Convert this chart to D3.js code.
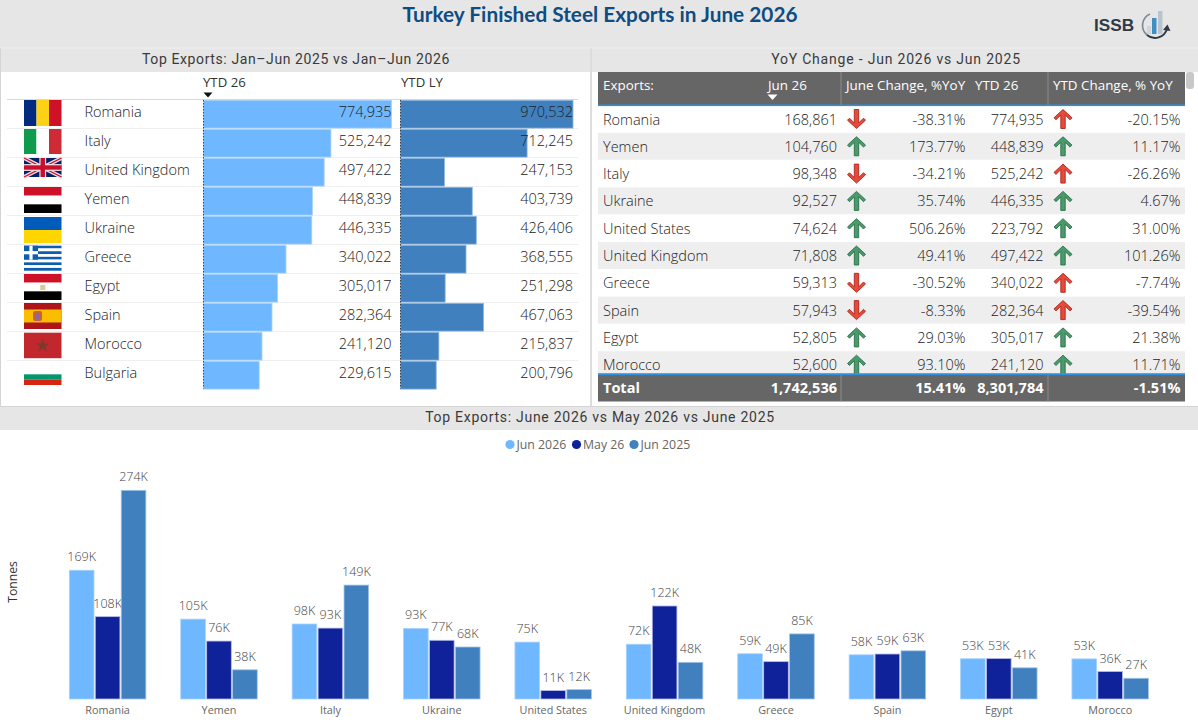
<!DOCTYPE html>
<html>
<head>
	<meta charset="utf-8">
	<style>
		html, body {margin: 0; padding: 0; background: #fff; overflow: hidden;}
		svg {display: block;}
	</style>
</head>
<body>
<div id="chartContainer">
	<script src="https://d3js.org/d3.v7.min.js"></script>
	<script type="text/javascript">

// Top exports panel (Jan-Jun)
	var topNames = ["Romania", "Italy", "United Kingdom", "Yemen", "Ukraine", "Greece", "Egypt", "Spain", "Morocco", "Bulgaria"];
	var ytd26 = [774935, 525242, 497422, 448839, 446335, 340022, 305017, 282364, 241120, 229615];
	var ytdLy = [970532, 712245, 247153, 403739, 426406, 368555, 251298, 467063, 215837, 200796];

// YoY table
	var tableNames = ["Romania", "Yemen", "Italy", "Ukraine", "United States", "United Kingdom", "Greece", "Spain", "Egypt", "Morocco"];
	var tableJun26 = [168861, 104760, 98348, 92527, 74624, 71808, 59313, 57943, 52805, 52600];
	var tableJunChange = [-38.31, 173.77, -34.21, 35.74, 506.26, 49.41, -30.52, -8.33, 29.03, 93.10];
	var tableYtd26 = [774935, 448839, 525242, 446335, 223792, 497422, 340022, 282364, 305017, 241120];
	var tableYtdChange = [-20.15, 11.17, -26.26, 4.67, 31.00, 101.26, -7.74, -39.54, 21.38, 11.71];
	var totalRow = ["Total", "1,742,536", "15.41%", "8,301,784", "-1.51%"];

// Monthly bars
	var categories = ["Romania", "Yemen", "Italy", "Ukraine", "United States", "United Kingdom", "Greece", "Spain", "Egypt", "Morocco"];
	var seriesNames = ["Jun 2026", "May 26", "Jun 2025"];
	var jun2026 = [168861, 104760, 98348, 92527, 74624, 71808, 59313, 57943, 52805, 52600];
	var may2026 = [108000, 76000, 93000, 77000, 11000, 122000, 49000, 59000, 53000, 36000];
	var jun2025 = [273700, 38300, 149400, 68200, 12300, 48100, 85400, 63200, 40900, 27200];

	var bodyFont = "'Open Sans', sans-serif";
	var headFont = "Roboto, sans-serif";
	var lightBlue = "#6fb8ff", navy = "#10229a", midBlue = "#4080bf";

	var svg = d3.select("#chartContainer").append("svg")
		.attr("width", 1198).attr("height", 725)
		.style("font-family", bodyFont).style("font-weight", 300);

// Page background and panels
	svg.append("rect").attr("width", 1198).attr("height", 725).attr("fill", "#e6e6e6");
	svg.append("rect").attr("x", 1).attr("y", 72).attr("width", 589).attr("height", 334).attr("fill", "#fff");
	svg.append("rect").attr("x", 592).attr("y", 72).attr("width", 606).attr("height", 334).attr("fill", "#fff");
	svg.append("rect").attr("x", 0).attr("y", 430).attr("width", 1198).attr("height", 295).attr("fill", "#fff");
	svg.append("line").attr("x1", 0).attr("x2", 1198).attr("y1", 48).attr("y2", 48).attr("stroke", "#efefef");
	svg.append("line").attr("x1", 591).attr("x2", 591).attr("y1", 48).attr("y2", 406).attr("stroke", "#d4d4d4");
	svg.append("line").attr("x1", 0.5).attr("x2", 0.5).attr("y1", 48).attr("y2", 406).attr("stroke", "#d4d4d4");
	svg.append("line").attr("x1", 0).attr("x2", 1198).attr("y1", 406.5).attr("y2", 406.5).attr("stroke", "#d4d4d4");

// Headings
	svg.append("text")
		.attr("x", 600).attr("y", 22)
		.style("text-anchor", "middle").style("font-family", "Lato, sans-serif")
		.style("font-size", "20.8px").style("font-weight", 700)
		.attr("fill", "#0f4c81")
		.text("Turkey Finished Steel Exports in June 2026");

	function sectionTitle(x, y, label, spacing) {
		svg.append("text")
			.attr("x", x).attr("y", y)
			.style("text-anchor", "middle").style("font-family", headFont)
			.style("font-size", "14px").style("font-weight", 400).style("letter-spacing", spacing + "px")
			.attr("fill", "#3a3a3a")
			.text(label);
	}
	sectionTitle(296, 64, "Top Exports: Jan\u2013Jun 2025 vs Jan\u2013Jun 2026", 0.6);
	sectionTitle(896, 64, "YoY Change - Jun 2026 vs Jun 2025", 0.8);
	sectionTitle(600, 422, "Top Exports: June 2026 vs May 2026 vs June 2025", 0.72);

// ISSB logo
	var logo = svg.append("g");
	logo.append("text").attr("x", 1094).attr("y", 30.5)
		.style("font-family", "'Liberation Sans', sans-serif").style("font-weight", 700).style("font-size", "17.2px")
		.attr("fill", "#2f3a48").text("ISSB");
	logo.append("rect").attr("x", 1147).attr("y", 26).attr("width", 4).attr("height", 8).attr("fill", "#cfd5da");
	logo.append("rect").attr("x", 1152).attr("y", 18).attr("width", 4.5).attr("height", 16).attr("fill", "#3f8fc4");
	logo.append("rect").attr("x", 1158).attr("y", 11).attr("width", 4.5).attr("height", 23).attr("fill", "#b9c4cc");
	logo.append("path").attr("d", "M1150 14 A12.5 12.5 0 0 0 1147 35").attr("fill", "none").attr("stroke", "#7f8b96").attr("stroke-width", 1.7);
	logo.append("path").attr("d", "M1147 35 A12.5 12.5 0 0 0 1167 29").attr("fill", "none").attr("stroke", "#2f3a48").attr("stroke-width", 1.9);
	logo.append("path").attr("d", "M1163 30 L1167.5 24.5 L1170.5 31 Z").attr("fill", "#2f3a48");

// --- Left panel: bars per country ---
	var rowTop = 100, rowH = 29;
	var xYtd = d3.scaleLinear().domain([0, d3.max(ytd26)]).range([203.5, 391.5]);
	var xLy = d3.scaleLinear().domain([0, d3.max(ytdLy)]).range([400.5, 573]);
	var fmt = d3.format(",");

	svg.append("text").attr("x", 203).attr("y", 87).style("font-size", "13.2px").style("font-weight", 400).attr("fill", "#333").text("YTD 26");
	svg.append("text").attr("x", 401).attr("y", 87).style("font-size", "13.2px").style("font-weight", 400).attr("fill", "#333").text("YTD LY");
	svg.append("path").attr("d", "M203.5 92.5 L212.5 92.5 L208 97.5 Z").attr("fill", "#111");
	svg.append("line").attr("x1", 7).attr("x2", 578).attr("y1", 99.5).attr("y2", 99.5).attr("stroke", "#d9d9d9").attr("stroke-width", 1.2);

	var rows = svg.append("g").selectAll("g").data(topNames).enter().append("g")
		.attr("transform", function(d, i) { return "translate(0," + (rowTop + i * rowH) + ")"; });

	rows.filter(function(d, i) { return i < topNames.length - 1; }).append("line")
		.attr("x1", 7).attr("x2", 578).attr("y1", rowH - 0.5).attr("y2", rowH - 0.5).attr("stroke", "#efefef");

	rows.append("rect").attr("x", xYtd(0)).attr("y", 0.3).attr("height", rowH - 1.2)
		.attr("width", function(d, i) { return xYtd(ytd26[i]) - xYtd(0); })
		.attr("fill", lightBlue).attr("stroke", "#a9d2fb").attr("stroke-width", 0.8);
	rows.append("rect").attr("x", xLy(0)).attr("y", 0.3).attr("height", rowH - 1.2)
		.attr("width", function(d, i) { return xLy(ytdLy[i]) - xLy(0); })
		.attr("fill", midBlue).attr("stroke", "#8db5de").attr("stroke-width", 0.8);

	rows.append("text").attr("x", 84.5).attr("y", 16.8)
		.style("font-size", "14.5px").attr("fill", "#222").text(function(d) { return d; });
	rows.append("text").attr("x", 391.5).attr("y", 16.8).style("text-anchor", "end")
		.style("font-size", "14.5px").attr("fill", "#222").text(function(d, i) { return fmt(ytd26[i]); });
	rows.append("text").attr("x", 573).attr("y", 16.8).style("text-anchor", "end")
		.style("font-size", "14.5px").attr("fill", "#222").text(function(d, i) { return fmt(ytdLy[i]); });

	[203.5, 400.5].forEach(function(x) {
		svg.append("line").attr("x1", x).attr("x2", x)
			.attr("y1", rowTop).attr("y2", rowTop + rowH * topNames.length - 1.5)
			.attr("stroke", "#222").attr("stroke-width", 0.8).attr("stroke-dasharray", "1.5 1.5");
	});

// Flags, built out of stripes
	var flagW = 37.5;
	function stripes(g, dir, cols, h) {
		cols.forEach(function(c, i) {
			g.append("rect")
				.attr("x", dir == "v" ? flagW * i / cols.length : 0)
				.attr("y", dir == "v" ? 0 : h * i / cols.length)
				.attr("width", dir == "v" ? flagW / cols.length : flagW)
				.attr("height", dir == "v" ? h : h / cols.length)
				.attr("fill", c);
		});
	}
	var flagDraw = {
		"Romania": function(g) { stripes(g, "v", ["#002b7f", "#fcd116", "#ce1126"], 26); },
		"Italy": function(g) { stripes(g, "v", ["#0f9a4c", "#ffffff", "#ce2b37"], 25); },
		"United Kingdom": function(g) {
			var h = 19;
			g.append("rect").attr("width", flagW).attr("height", h).attr("fill", "#012169");
			g.append("path").attr("d", "M0 0 L" + flagW + " " + h + " M" + flagW + " 0 L0 " + h).attr("stroke", "#f4d8dc").attr("stroke-width", 3.8);
			g.append("path").attr("d", "M0 0 L" + flagW + " " + h + " M" + flagW + " 0 L0 " + h).attr("stroke", "#c8102e").attr("stroke-width", 1.4);
			g.append("rect").attr("x", flagW / 2 - 3.4).attr("width", 6.8).attr("height", h).attr("fill", "#f6e3e6");
			g.append("rect").attr("y", h / 2 - 3.4).attr("width", flagW).attr("height", 6.8).attr("fill", "#f6e3e6");
			g.append("rect").attr("x", flagW / 2 - 2.2).attr("width", 4.4).attr("height", h).attr("fill", "#c8102e");
			g.append("rect").attr("y", h / 2 - 2.2).attr("width", flagW).attr("height", 4.4).attr("fill", "#c8102e");
		},
		"Yemen": function(g) { stripes(g, "h", ["#ce1126", "#ffffff", "#000000"], 26); },
		"Ukraine": function(g) { stripes(g, "h", ["#005bbb", "#ffd500"], 26); },
		"Greece": function(g) {
			stripes(g, "h", ["#0d5eaf", "#fff", "#0d5eaf", "#fff", "#0d5eaf", "#fff", "#0d5eaf", "#fff", "#0d5eaf"], 25);
			g.append("rect").attr("width", 14).attr("height", 14).attr("fill", "#0d5eaf");
			g.append("rect").attr("x", 5.4).attr("width", 3.2).attr("height", 14).attr("fill", "#fff");
			g.append("rect").attr("y", 5.4).attr("width", 14).attr("height", 3.2).attr("fill", "#fff");
		},
		"Egypt": function(g) {
			stripes(g, "h", ["#ce1126", "#ffffff", "#000000"], 26);
			g.append("rect").attr("x", flagW / 2 - 2.5).attr("y", 11).attr("width", 5).attr("height", 5).attr("fill", "#e0c890");
		},
		"Spain": function(g) {
			g.append("rect").attr("width", flagW).attr("height", 26).attr("fill", "#ad1519");
			g.append("rect").attr("y", 6.5).attr("width", flagW).attr("height", 13).attr("fill", "#fabd00");
			g.append("rect").attr("x", 9).attr("y", 8).attr("width", 9).attr("height", 10).attr("rx", 2).attr("fill", "#c8603a");
			g.append("rect").attr("x", 12).attr("y", 10).attr("width", 4).attr("height", 6).attr("fill", "#8a6a9a");
		},
		"Morocco": function(g) {
			g.append("rect").attr("width", flagW).attr("height", 25.5).attr("fill", "#c1272d");
			g.append("path").attr("transform", "translate(" + flagW / 2 + ",13)")
				.attr("d", d3.symbol().type(d3.symbolStar).size(60)).attr("fill", "#7b3a2c");
		},
		"Bulgaria": function(g) { stripes(g, "h", ["#ffffff", "#00966e", "#d62612"], 16); }
	};
	var flagOffset = [0, 0, 0, 0, 1, 0.7, 0, 0, 0.7, 8];
	rows.append("g")
		.attr("transform", function(d, i) { return "translate(24," + flagOffset[i] + ")"; })
		.each(function(d) { flagDraw[d](d3.select(this)); });

// --- Right panel: YoY table ---
	var tX0 = 598, tX1 = 1185, tTop = 105.5, tRowH = 27.3, tBottom = 373.5;
	svg.append("clipPath").attr("id", "tableClip").append("rect")
		.attr("x", tX0).attr("y", tTop).attr("width", tX1 - tX0).attr("height", tBottom - tTop);

	svg.append("rect").attr("x", tX0).attr("y", 72).attr("width", tX1 - tX0).attr("height", 33).attr("fill", "#666");
	svg.append("rect").attr("x", tX0).attr("y", 104.5).attr("width", tX1 - tX0).attr("height", 1.6).attr("fill", "#2f8fdc");

	var headers = [["Exports:", 603], ["Jun 26", 768], ["June Change, %YoY", 846], ["YTD 26", 975], ["YTD Change, % YoY", 1053]];
	headers.forEach(function(h) {
		svg.append("text").attr("x", h[1]).attr("y", 90)
			.style("font-size", "13.4px").style("font-weight", 400).attr("fill", "#fff").text(h[0]);
	});
	svg.append("path").attr("d", "M767.5 94.5 L777.5 94.5 L772.5 100 Z").attr("fill", "#fff");

	var tRows = svg.append("g").attr("clip-path", "url(#tableClip)")
		.selectAll("g").data(tableNames).enter().append("g")
		.attr("transform", function(d, i) { return "translate(0," + (tTop + i * tRowH) + ")"; });

	tRows.filter(function(d, i) { return i % 2 == 1; }).append("rect")
		.attr("x", tX0).attr("width", tX1 - tX0).attr("height", tRowH - 0.4).attr("fill", "#eeeeee");

	function tCell(x, anchor, fn) {
		tRows.append("text").attr("x", x).attr("y", 19)
			.style("font-size", "14.5px").style("text-anchor", anchor).attr("fill", "#222").text(fn);
	}
	function pct(v) { return v.toFixed(2) + "%"; }
	tCell(603, "start", function(d) { return d; });
	tCell(837, "end", function(d, i) { return fmt(tableJun26[i]); });
	tCell(965.5, "end", function(d, i) { return pct(tableJunChange[i]); });
	tCell(1043.5, "end", function(d, i) { return fmt(tableYtd26[i]); });
	tCell(1180.5, "end", function(d, i) { return pct(tableYtdChange[i]); });

// arrows: shaft plus chevron head, drawn pointing up around (0,0)
	var arrowPath = "M-2.2 9.5 L-2.2 -4 L-7 0.8 L-9 -1.2 L0 -9.5 L9 -1.2 L7 0.8 L2.2 -4 L2.2 9.5 Z";
	function arrow(x, dirFn, upColor) {
		tRows.append("path").attr("d", arrowPath)
			.attr("transform", function(d, i) { return "translate(" + x + ",13.5)" + (dirFn(i) ? "" : " rotate(180)"); })
			.attr("fill", function(d, i) { return upColor(i) ? "#4b9a6c" : "#e64a3b"; })
			.attr("stroke", function(d, i) { return upColor(i) ? "#2a6f48" : "#ab261b"; })
			.attr("stroke-width", 0.9);
	}
	arrow(856.5, function(i) { return tableJunChange[i] >= 0; }, function(i) { return tableJunChange[i] >= 0; });
	arrow(1063, function(i) { return true; }, function(i) { return tableYtdChange[i] >= 0; });

	svg.append("rect").attr("x", tX0).attr("y", 373.5).attr("width", tX1 - tX0).attr("height", 28).attr("fill", "#666");
	svg.append("rect").attr("x", tX0).attr("y", 373.5).attr("width", tX1 - tX0).attr("height", 1.6).attr("fill", "#2f8fdc");
	[841, 1048].forEach(function(x) {
		svg.append("line").attr("x1", x).attr("x2", x).attr("y1", 72).attr("y2", 105).attr("stroke", "#8c8c8c");
		svg.append("line").attr("x1", x).attr("x2", x).attr("y1", 375).attr("y2", 401.5).attr("stroke", "#8c8c8c");
	});
	var totalX = [603, 837, 965.5, 1043.5, 1180.5];
	totalRow.forEach(function(t, i) {
		svg.append("text").attr("x", totalX[i]).attr("y", 393)
			.style("font-size", "14.5px").style("font-weight", 700)
			.style("text-anchor", i == 0 ? "start" : "end").attr("fill", "#fff").text(t);
	});
	svg.append("rect").attr("x", 1186).attr("y", 72).attr("width", 8).attr("height", 17).attr("rx", 3).attr("fill", "#c8c8c8");

// --- Bottom panel: grouped bars ---
	var series = [jun2026, may2026, jun2025];
	var colors = [lightBlue, navy, midBlue];
	var strokes = ["#a9d2fb", "#b4bce8", "#a6c6e6"];

	var x0 = d3.scaleBand().domain(categories).range([51.9, 1165.9]).paddingInner(0.313).paddingOuter(0.1565);
	var x1 = d3.scaleBand().domain([0, 1, 2]).range([0, x0.bandwidth()]).paddingInner(0.05);
	var y = d3.scaleLinear().domain([0, 273700]).range([699, 490.3]);

	var groups = svg.append("g").selectAll("g").data(categories).enter().append("g")
		.attr("transform", function(d) { return "translate(" + x0(d) + ",0)"; });

	series.forEach(function(values, s) {
		groups.append("rect")
			.attr("x", x1(s)).attr("width", x1.bandwidth())
			.attr("y", function(d, i) { return y(values[i]); })
			.attr("height", function(d, i) { return y(0) - y(values[i]); })
			.attr("fill", colors[s]).attr("stroke", strokes[s]).attr("stroke-width", 0.8);
		groups.append("text")
			.attr("x", x1(s) + x1.bandwidth() / 2)
			.attr("y", function(d, i) { return y(values[i]) - 9; })
			.style("text-anchor", "middle").style("font-size", "12.5px").attr("fill", "#444")
			.text(function(d, i) { return Math.round(values[i] / 1000) + "K"; });
	});

	var xAxis = svg.append("g").attr("transform", "translate(0,699)")
		.call(d3.axisBottom(x0).tickSize(0).tickPadding(7));
	xAxis.select(".domain").remove();
	xAxis.selectAll("text").style("font-family", bodyFont).style("font-size", "10.8px").style("font-weight", 400).attr("fill", "#666");

	svg.append("text").attr("transform", "translate(17,582) rotate(-90)")
		.style("text-anchor", "middle").style("font-size", "12.2px").style("font-weight", 400).attr("fill", "#333").text("Tonnes");

// Legend
	var legendX = [510, 576.5, 634];
	seriesNames.forEach(function(name, i) {
		svg.append("circle").attr("cx", legendX[i]).attr("cy", 444.5).attr("r", 4.6).attr("fill", colors[i]);
		svg.append("text").attr("x", legendX[i] + 6.5).attr("y", 449)
			.style("font-size", "12.3px").style("font-weight", 400).attr("fill", "#666").text(name);
	});

	</script>
</div>
</body>
</html>
